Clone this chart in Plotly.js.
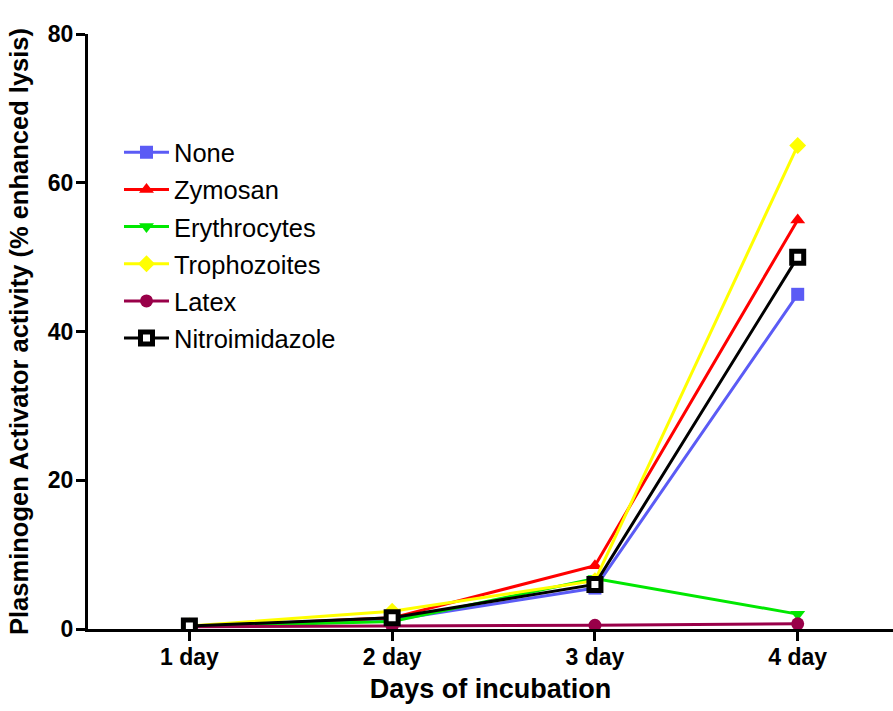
<!DOCTYPE html>
<html><head><meta charset="utf-8">
<script src="https://cdn.plot.ly/plotly-3.0.1.min.js"></script>
<style>body{margin:0;background:#fff}#c{width:893px;height:711px}</style>
</head><body><div id="c"></div>
<script>
const days = ["1 day","2 day","3 day","4 day"];
const none = [0.3, 1.2, 5.5, 45];
const zymosan = [0.3, 1.5, 8.5, 55];
const erythrocytes = [0.3, 1.0, 6.8, 2.0];
const trophozoites = [0.4, 2.4, 6.5, 65];
const latex = [0.3, 0.4, 0.5, 0.7];
const nitroimidazole = [0.4, 1.5, 6.0, 50];

const names = ["None","Zymosan","Erythrocytes","Trophozoites","Latex","Nitroimidazole"];
const series = [none, zymosan, erythrocytes, trophozoites, latex, nitroimidazole];
const colors = ["#5b5bf5","#ff0000","#00e800","#ffff00","#990049","#000000"];
const symbols = ["square","triangle-up","triangle-down","diamond","circle","square"];

const traces = series.map((s,i)=>({
  x: days, y: s, name: names[i], type: "scatter", mode: "lines+markers",
  legendgroup: "g"+i,
  line: {color: colors[i], width: 3},
  marker: i===5 ? {symbol: "square", size: 12, color: "#ffffff", line: {color: "#000", width: 5}}
                : {symbol: symbols[i], size: 13, color: colors[i]}
}));

const FONT = "Liberation Sans, Arial, sans-serif";
const layout = {
  width: 893, height: 711,
  margin: {l: 88, r: 0, t: 34, b: 82},
  paper_bgcolor: "#fff", plot_bgcolor: "#fff",
  font: {family: FONT, color: "#000"},
  showlegend: true,
  legend: {x: 0.0385, y: 0.84, xanchor: "left", yanchor: "top", font: {size: 25.5, color: "#000"},
           itemwidth: 45, bgcolor: "rgba(0,0,0,0)", tracegroupgap: 1, traceorder: "grouped"},
  xaxis: {
    type: "category", range: [-0.5, 3.47],
    showline: true, linecolor: "#000", linewidth: 3, mirror: false,
    showgrid: false, zeroline: false,
    ticks: "outside", ticklen: 9, tickwidth: 3, tickcolor: "#000",
    ticklabelstandoff: -4,
    tickfont: {size: 23, family: FONT, weight: "bold"},
    title: {text: "<b>Days of incubation</b>", font: {size: 27}, standoff: 11}
  },
  yaxis: {
    range: [0, 80], tickvals: [0,20,40,60,80],
    showline: true, linecolor: "#000", linewidth: 3,
    showgrid: false, zeroline: false,
    ticks: "outside", ticklen: 9, tickwidth: 3, tickcolor: "#000",
    ticklabelstandoff: -2,
    tickfont: {size: 23, family: FONT, weight: "bold"},
    title: {text: "<b>Plasminogen Activator activity (% enhanced lysis)</b>", font: {size: 25.5}, standoff: 12}
  }
};
Plotly.newPlot("c", traces, layout, {displayModeBar: false});
</script></body></html>
